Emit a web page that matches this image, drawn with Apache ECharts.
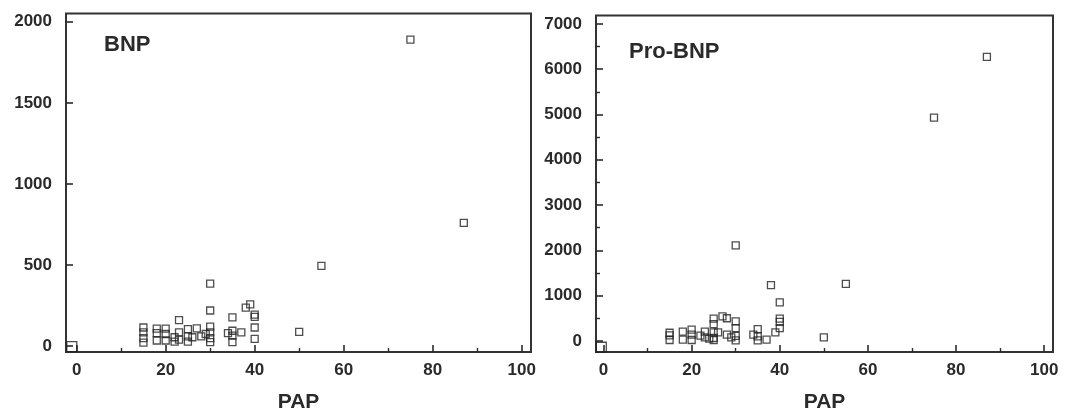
<!DOCTYPE html>
<html>
<head>
<meta charset="utf-8">
<script src="https://cdn.jsdelivr.net/npm/echarts@6/dist/echarts.min.js"></script>
<style>
html,body{margin:0;padding:0;background:#fff;}
#c{width:1067px;height:418px;}
</style>
</head>
<body>
<div id="c"></div>
<script>
// ---- data ----
var xTicks = [0, 20, 40, 60, 80, 100];
var xMinorTicks = [10, 30, 50, 70, 90];
var bnpTicks = [0, 500, 1000, 1500, 2000];
var proTicks = [0, 1000, 2000, 3000, 4000, 5000, 6000, 7000];
var proMinorTicks = [500, 1500, 2500, 3500, 4500, 5500, 6500];

var bnpPap = [15,15,15,15, 18,18,18, 20,20,20, 22,22, 23,23,23, 25,25,25, 26, 27, 28, 29,
              30,30,30,30,30,30, 34, 35,35,35,35, 37, 38, 39, 40,40,40,40, 50, 55, 75, 87];
var bnpVal = [115,85,50,22, 108,80,35, 108,75,35, 55,28, 160,85,40, 105,60,28, 55, 110, 60, 75,
              385,220,120,85,50,25, 80, 177,95,65,25, 85, 237, 258, 195,180,115,45, 88, 495, 1890, 760];
var bnpCornerPap = [-1.1];
var bnpCornerVal = [-3];

var proPap = [15,15,15, 18,18, 20,20,20, 22, 23,23, 24, 25,25,25,25,25, 26, 27, 28,28, 29,
              30,30,30,30,30, 34, 35,35,35, 37, 38, 39, 40,40,40,40, 50, 55, 75, 87];
var proVal = [180,120,20, 205,30, 250,140,20, 115, 205,80, 50, 490,370,190,65,20, 190, 540, 500,140, 80,
              2110,430,280,110,10, 140, 260,100,10, 30, 1230, 190, 850,490,420,280, 80, 1260, 4930, 6270];
var proCornerPap = [-0.5];
var proCornerVal = [-140];

function zip(a, b) { return a.map(function (v, i) { return [v, b[i]]; }); }

var ink = '#2a2a2a';
var FONT = 'Liberation Sans, Arial, sans-serif';
var labelFont = { color: ink, fontFamily: FONT, fontWeight: 'bold', fontSize: 17 };
function plain(v) { return String(Math.round(v)); }

function mainX(grid, min, max) {
  return {
    type: 'value', gridIndex: grid, min: min, max: max,
    name: 'PAP', nameLocation: 'middle', nameGap: 40,
    nameTextStyle: { color: ink, fontFamily: FONT, fontWeight: 'bold', fontSize: 21 },
    axisLine: { show: false, onZero: false },
    axisTick: { show: true, inside: true, length: 7, customValues: xTicks, lineStyle: { color: ink, width: 1.6 } },
    axisLabel: Object.assign({ margin: 10, customValues: xTicks, formatter: plain }, labelFont),
    splitLine: { show: false }
  };
}
function minorX(grid, min, max) {
  return {
    type: 'value', gridIndex: grid, min: min, max: max, position: 'bottom',
    axisLine: { show: false, onZero: false },
    axisTick: { show: true, inside: true, length: 4, customValues: xMinorTicks, lineStyle: { color: ink, width: 1.4 } },
    axisLabel: { show: false },
    splitLine: { show: false }
  };
}
function mainY(grid, min, max, ticks) {
  return {
    type: 'value', gridIndex: grid, min: min, max: max,
    axisLine: { show: false, onZero: false },
    axisTick: { show: true, inside: true, length: 7, customValues: ticks, lineStyle: { color: ink, width: 1.6 } },
    axisLabel: Object.assign({ margin: 14, customValues: ticks, formatter: plain }, labelFont),
    splitLine: { show: false }
  };
}
function minorY(grid, min, max, ticks) {
  return {
    type: 'value', gridIndex: grid, min: min, max: max, position: 'left',
    axisLine: { show: false, onZero: false },
    axisTick: { show: true, inside: true, length: 4, customValues: ticks, lineStyle: { color: ink, width: 1.4 } },
    axisLabel: { show: false },
    splitLine: { show: false }
  };
}

var markStyle = { color: 'rgba(255,255,255,0)', borderColor: '#222', borderWidth: 1.3 };

var chart = echarts.init(document.getElementById('c'), null, { renderer: 'canvas' });
chart.setOption({
  backgroundColor: '#ffffff',
  animation: false,
  title: [
    { text: 'BNP', left: 99, top: 29, textStyle: { color: ink, fontFamily: FONT, fontWeight: 'bold', fontSize: 22 } },
    { text: 'Pro-BNP', left: 624, top: 36, textStyle: { color: ink, fontFamily: FONT, fontWeight: 'bold', fontSize: 22 } }
  ],
  grid: [
    { left: 66, top: 13.5, width: 465, height: 343.5, show: true, borderColor: '#333', borderWidth: 2, backgroundColor: 'transparent' },
    { left: 596, top: 15.5, width: 457, height: 342.8, show: true, borderColor: '#333', borderWidth: 2, backgroundColor: 'transparent' }
  ],
  xAxis: [
    mainX(0, -2.4, 102.1),
    minorX(0, -2.4, 102.1),
    mainX(1, -1.7, 102),
    minorX(1, -1.7, 102)
  ],
  yAxis: [
    mainY(0, -36, 2051, bnpTicks),
    mainY(1, -245, 7185, proTicks),
    minorY(1, -245, 7185, proMinorTicks)
  ],
  series: [
    { type: 'scatter', xAxisIndex: 0, yAxisIndex: 0, symbol: 'rect', symbolSize: 7,
      itemStyle: markStyle, data: zip(bnpPap, bnpVal) },
    { type: 'scatter', xAxisIndex: 0, yAxisIndex: 0, symbol: 'rect', symbolSize: 10,
      itemStyle: markStyle, data: zip(bnpCornerPap, bnpCornerVal) },
    { type: 'scatter', xAxisIndex: 2, yAxisIndex: 1, symbol: 'rect', symbolSize: 7,
      itemStyle: markStyle, data: zip(proPap, proVal) },
    { type: 'scatter', xAxisIndex: 2, yAxisIndex: 1, symbol: 'rect', symbolSize: 10,
      itemStyle: markStyle, data: zip(proCornerPap, proCornerVal) }
  ]
});
</script>
</body>
</html>
